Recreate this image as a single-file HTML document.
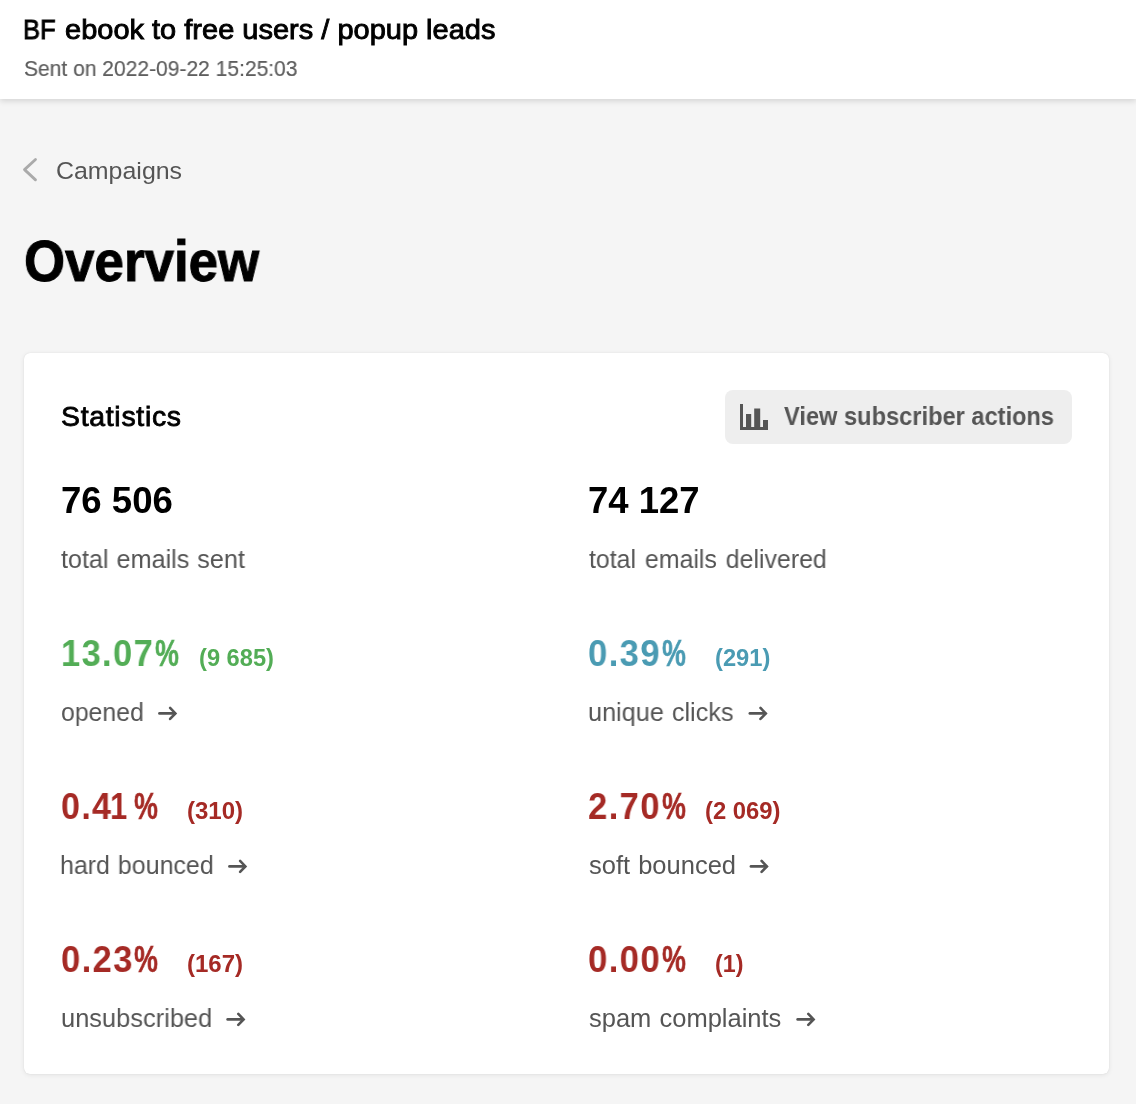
<!DOCTYPE html>
<html>
<head>
<meta charset="utf-8">
<title>Overview</title>
<style>
html,body{margin:0;padding:0;}
body{width:1136px;height:1104px;overflow:hidden;background:#f5f5f5;font-family:"Liberation Sans",sans-serif;position:relative;}
.hdr{position:absolute;left:0;top:0;width:1136px;height:99px;background:#fff;box-shadow:0 2px 6px rgba(0,0,0,.14);}
.card{position:absolute;left:24px;top:352.5px;width:1085px;height:721.5px;background:#fff;border-radius:6px;box-shadow:0 1px 5px rgba(0,0,0,.08),0 0 1px rgba(0,0,0,.12);}
.btn{position:absolute;left:725px;top:390px;width:347px;height:53.75px;background:#eeeeee;border-radius:8px;}
.t{margin:0;padding:0;text-decoration:none;position:absolute;line-height:1;white-space:pre;transform-origin:0 0;will-change:transform;font-family:"Liberation Sans",sans-serif;}
.ar{position:absolute;overflow:visible;}
.ar path{fill:none;stroke:#555;stroke-width:2.6;stroke-linecap:round;stroke-linejoin:miter;}
.ar path.sh{stroke-width:2.8;}
.ic{position:absolute;}
</style>
</head>
<body>
<header>
<div class="hdr"></div>
<span class="t" style="left:23.32px;top:16.05px;font-size:28px;font-weight:400;color:#000000;transform:scaleX(0.9104);-webkit-text-stroke:0.9px #000000;">BF</span>
<span class="t" style="left:65.10px;top:16.05px;font-size:28px;font-weight:400;color:#000000;transform:scaleX(1.0356);-webkit-text-stroke:0.9px #000000;">ebook to free users / popup leads</span>
<span class="t" style="left:23.77px;top:58.92px;font-size:21.5px;font-weight:400;color:#5e5e5e;transform:scaleX(0.9777);-webkit-text-stroke:0.2px #5e5e5e;">Sent on 2022-09-22 15:25:03</span>
</header>
<nav>
<svg class="ic" style="left:22px;top:156px" width="18" height="28" viewBox="0 0 18 28"><path d="M13.5 3.5L2.5 13.65L13.5 23.85" fill="none" stroke="#aaaaaa" stroke-width="2.8" stroke-linecap="round" stroke-linejoin="round"/></svg>
<a class="t" style="left:55.73px;top:159.25px;font-size:24.5px;font-weight:400;color:#555555;transform:scaleX(1.0173);">Campaigns</a>
</nav>
<main>
<h1 class="t" style="left:23.77px;top:232.20px;font-size:58px;font-weight:700;color:#000000;transform:scaleX(0.9118);-webkit-text-stroke:1.0px #000000;">Overview</h1>
<section>
<div class="card"></div>
<div class="btn" role="button"></div>
<svg class="ic" style="left:740px;top:404px" width="28" height="26" viewBox="0 0 28 26"><path fill="#555" d="M0 0H3V23H28V26H0Z M6 10H11.2V23H6Z M14.2 4.5H20.2V23H14.2Z M23 16H28V23H23Z"/></svg>
<h2 class="t" style="left:61.05px;top:402.93px;font-size:28px;font-weight:400;color:#000000;transform:scaleX(1.0144);-webkit-text-stroke:0.8px #000000;letter-spacing:0.7px;">Statistics</h2>
<span class="t" style="left:783.66px;top:404.20px;font-size:25px;font-weight:700;color:#555555;transform:scaleX(0.9451);">View subscriber actions</span>
<span class="t" style="left:60.92px;top:483.20px;font-size:36px;font-weight:700;color:#000000;transform:scaleX(1.0164);">76 506</span>
<span class="t" style="left:588.18px;top:483.05px;font-size:36px;font-weight:700;color:#000000;transform:scaleX(1.0138);">74 127</span>
<span class="t" style="left:61.35px;top:547.25px;font-size:25.5px;font-weight:400;color:#555555;transform:scaleX(0.9871);word-spacing:1.0px;">total emails sent</span>
<span class="t" style="left:588.61px;top:547.25px;font-size:25.5px;font-weight:400;color:#555555;transform:scaleX(0.9763);word-spacing:2.0px;">total emails delivered</span>
<span class="t" style="left:61.21px;top:636.12px;font-size:36px;font-weight:700;color:#53ad56;transform:scaleX(0.9586);letter-spacing:1.4px;">13.07</span>
<span class="t" style="left:154.60px;top:636.15px;font-size:36px;font-weight:700;color:#53ad56;transform:scaleX(0.7481);-webkit-text-stroke:0.5px #53ad56;">%</span>
<span class="t" style="left:198.89px;top:647.05px;font-size:23px;font-weight:700;color:#53ad56;transform:scaleX(1.0291);">(9 685)</span>
<span class="t" style="left:60.88px;top:699.92px;font-size:25.5px;font-weight:400;color:#555555;transform:scaleX(0.9728);">opened</span>
<span class="t" style="left:588.35px;top:636.10px;font-size:36px;font-weight:700;color:#4a9bb3;transform:scaleX(0.9637);letter-spacing:1.4px;">0.39</span>
<span class="t" style="left:661.80px;top:636.15px;font-size:36px;font-weight:700;color:#4a9bb3;transform:scaleX(0.7481);-webkit-text-stroke:0.5px #4a9bb3;">%</span>
<span class="t" style="left:714.79px;top:647.05px;font-size:23px;font-weight:700;color:#4a9bb3;transform:scaleX(1.0302);">(291)</span>
<span class="t" style="left:588.11px;top:699.92px;font-size:25.5px;font-weight:400;color:#555555;transform:scaleX(0.9899);word-spacing:1.0px;">unique clicks</span>
<span class="t" style="left:61.12px;top:789.12px;font-size:36px;font-weight:700;color:#a52a25;transform:scaleX(0.9470);letter-spacing:1.4px;">0.4</span>
<span class="t" style="left:109.86px;top:789.15px;font-size:36px;font-weight:700;color:#a52a25;transform:scaleX(0.8600);">1</span>
<span class="t" style="left:134.40px;top:789.15px;font-size:36px;font-weight:700;color:#a52a25;transform:scaleX(0.7481);-webkit-text-stroke:0.5px #a52a25;">%</span>
<span class="t" style="left:186.77px;top:800.05px;font-size:23px;font-weight:700;color:#a52a25;transform:scaleX(1.0448);">(310)</span>
<span class="t" style="left:60.02px;top:853.25px;font-size:25.5px;font-weight:400;color:#555555;transform:scaleX(0.9796);word-spacing:1.0px;">hard bounced</span>
<span class="t" style="left:587.93px;top:789.12px;font-size:36px;font-weight:700;color:#a52a25;transform:scaleX(0.9631);letter-spacing:1.4px;">2.70</span>
<span class="t" style="left:661.80px;top:789.15px;font-size:36px;font-weight:700;color:#a52a25;transform:scaleX(0.7481);-webkit-text-stroke:0.5px #a52a25;">%</span>
<span class="t" style="left:705.28px;top:800.05px;font-size:23px;font-weight:700;color:#a52a25;transform:scaleX(1.0362);">(2 069)</span>
<span class="t" style="left:588.85px;top:853.25px;font-size:25.5px;font-weight:400;color:#555555;transform:scaleX(0.9983);word-spacing:1.0px;">soft bounced</span>
<span class="t" style="left:61.10px;top:942.10px;font-size:36px;font-weight:700;color:#a52a25;transform:scaleX(0.9617);letter-spacing:1.4px;">0.23</span>
<span class="t" style="left:134.40px;top:942.15px;font-size:36px;font-weight:700;color:#a52a25;transform:scaleX(0.7481);-webkit-text-stroke:0.5px #a52a25;">%</span>
<span class="t" style="left:186.77px;top:953.05px;font-size:23px;font-weight:700;color:#a52a25;transform:scaleX(1.0448);">(167)</span>
<span class="t" style="left:60.85px;top:1006.25px;font-size:25.5px;font-weight:400;color:#555555;transform:scaleX(0.9967);">unsubscribed</span>
<span class="t" style="left:588.35px;top:942.11px;font-size:36px;font-weight:700;color:#a52a25;transform:scaleX(0.9657);letter-spacing:1.4px;">0.00</span>
<span class="t" style="left:661.80px;top:942.15px;font-size:36px;font-weight:700;color:#a52a25;transform:scaleX(0.7481);-webkit-text-stroke:0.5px #a52a25;">%</span>
<span class="t" style="left:714.81px;top:953.05px;font-size:23px;font-weight:700;color:#a52a25;transform:scaleX(1.0107);">(1)</span>
<span class="t" style="left:588.85px;top:1005.92px;font-size:25.5px;font-weight:400;color:#555555;transform:scaleX(1.0001);word-spacing:1.0px;">spam complaints</span>
<svg class="ar" style="left:157px;top:704px" width="26" height="20" viewBox="0 0 26 20"><g transform="translate(0.10 0.45)"><path class="sh" d="M2.4 9H17.6"/><path d="M13 3.5L18.3 9L13 14.5"/></g></svg>
<svg class="ar" style="left:747px;top:704px" width="26" height="20" viewBox="0 0 26 20"><g transform="translate(0.50 0.45)"><path class="sh" d="M2.4 9H17.6"/><path d="M13 3.5L18.3 9L13 14.5"/></g></svg>
<svg class="ar" style="left:227px;top:857px" width="26" height="20" viewBox="0 0 26 20"><g transform="translate(0.10 0.40)"><path class="sh" d="M2.4 9H17.6"/><path d="M13 3.5L18.3 9L13 14.5"/></g></svg>
<svg class="ar" style="left:748px;top:857px" width="26" height="20" viewBox="0 0 26 20"><g transform="translate(0.60 0.40)"><path class="sh" d="M2.4 9H17.6"/><path d="M13 3.5L18.3 9L13 14.5"/></g></svg>
<svg class="ar" style="left:225px;top:1010px" width="26" height="20" viewBox="0 0 26 20"><g transform="translate(0.30 0.40)"><path class="sh" d="M2.4 9H17.6"/><path d="M13 3.5L18.3 9L13 14.5"/></g></svg>
<svg class="ar" style="left:795px;top:1010px" width="26" height="20" viewBox="0 0 26 20"><g transform="translate(0.30 0.40)"><path class="sh" d="M2.4 9H17.6"/><path d="M13 3.5L18.3 9L13 14.5"/></g></svg>
</section>
</main>
</body>
</html>
